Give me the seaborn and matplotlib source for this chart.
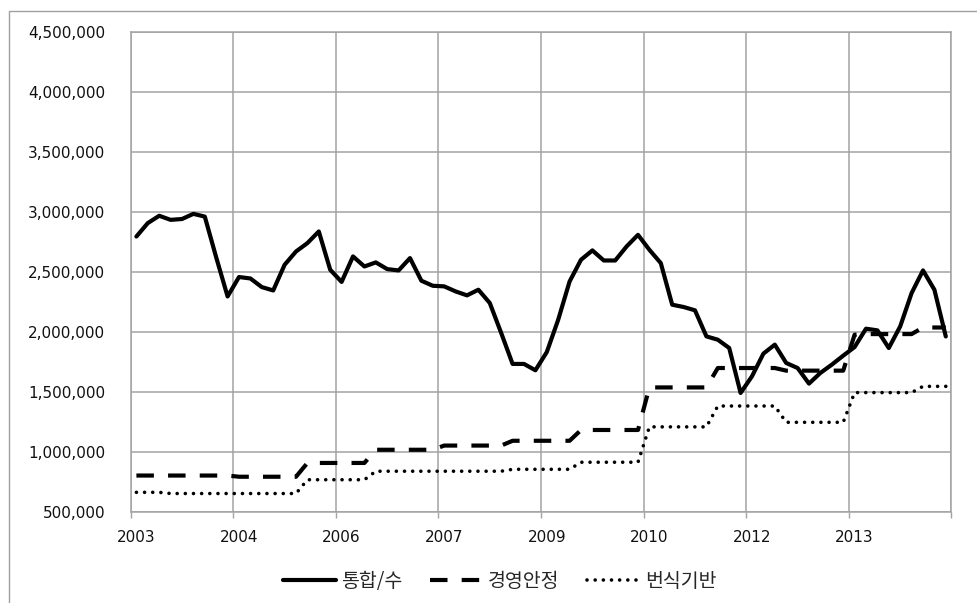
import numpy as np
import pandas as pd
import matplotlib
matplotlib.use("Agg")
import matplotlib.pyplot as plt
import seaborn as sns
from matplotlib.ticker import FuncFormatter
from matplotlib.patches import Rectangle

# ---------------- data (bimonthly, 72 points) ----------------
series_names = ["통합/수", "경영안정", "번식기반"]

tonghap = [2794000, 2906000, 2967000, 2933000, 2940000, 2983000, 2960000, 2620000, 2294000,
           2456000, 2444000, 2372000, 2344000, 2558000, 2669000, 2739000, 2836000, 2517000,
           2415000, 2628000, 2544000, 2578000, 2522000, 2511000, 2614000, 2425000, 2383000,
           2378000, 2336000, 2303000, 2350000, 2239000, 1989000, 1731000, 1731000, 1678000,
           1830000, 2100000, 2419000, 2600000, 2678000, 2594000, 2594000, 2711000, 2808000,
           2683000, 2572000, 2225000, 2206000, 2178000, 1961000, 1933000, 1864000, 1489000,
           1628000, 1817000, 1892000, 1739000, 1697000, 1567000, 1656000, 1725000, 1800000,
           1872000, 2025000, 2011000, 1864000, 2044000, 2322000, 2511000, 2350000, 1960000]

gyeongyeong = [800000, 800000, 800000, 800000, 800000, 800000, 800000, 800000, 800000,
               790000, 790000, 790000, 790000, 790000, 790000, 905000, 905000, 905000,
               905000, 905000, 905000, 1015000, 1015000, 1015000, 1015000, 1015000, 1015000,
               1050000, 1050000, 1050000, 1050000, 1050000, 1050000, 1090000, 1090000, 1090000,
               1090000, 1090000, 1090000, 1180000, 1180000, 1180000, 1180000, 1180000, 1180000,
               1535000, 1535000, 1535000, 1535000, 1535000, 1535000, 1697000, 1697000, 1697000,
               1697000, 1697000, 1697000, 1675000, 1675000, 1675000, 1675000, 1675000, 1675000,
               1975000, 1980000, 1980000, 1980000, 1980000, 1980000, 2035000, 2035000, 2035000]

beonsik = [660000, 660000, 660000, 650000, 650000, 650000, 650000, 650000, 650000,
           650000, 650000, 650000, 650000, 650000, 650000, 765000, 765000, 765000,
           765000, 765000, 765000, 836000, 836000, 836000, 836000, 836000, 836000,
           836000, 836000, 836000, 836000, 836000, 836000, 852000, 852000, 852000,
           852000, 852000, 852000, 911000, 911000, 911000, 911000, 911000, 911000,
           1206000, 1206000, 1206000, 1206000, 1206000, 1206000, 1380000, 1380000, 1380000,
           1380000, 1380000, 1380000, 1244000, 1244000, 1244000, 1244000, 1244000, 1244000,
           1492000, 1492000, 1492000, 1492000, 1492000, 1492000, 1544000, 1544000, 1544000]

tick_labels = ["2003", "2004", "2006", "2007", "2009", "2010", "2012", "2013"]
label_interval = 9
y_ticks = [500000, 1000000, 1500000, 2000000, 2500000, 3000000, 3500000, 4000000, 4500000]

n = len(tonghap)
df = pd.DataFrame({"idx": np.arange(n), "tonghap": tonghap,
                   "gyeongyeong": gyeongyeong, "beonsik": beonsik})

# ---------------- style ----------------
sns.set_theme(style="white")
plt.rcParams["font.family"] = ["DejaVu Sans", "Noto Sans CJK KR"]

W, H = 978, 603
fig = plt.figure(figsize=(W / 100, H / 100), dpi=100)
fig.patch.set_facecolor("white")
left, right, top, bottom = 130.7, 951.5, 32.0, 511.5
ax = fig.add_axes([left / W, 1 - bottom / H, (right - left) / W, (bottom - top) / H])

grid_c = "#a3a3a3"

sns.lineplot(data=df, x="idx", y="tonghap", ax=ax, color="black", lw=3.0,
             label=series_names[0])
sns.lineplot(data=df, x="idx", y="gyeongyeong", ax=ax, color="black", lw=3.0,
             linestyle=(0, (4.2, 3.4)), label=series_names[1])
sns.lineplot(data=df, x="idx", y="beonsik", ax=ax, color="black", lw=2.6,
             linestyle=(0, (0.01, 2.25)), label=series_names[2])

lines = ax.get_lines()
lines[0].set_solid_joinstyle("round")
lines[1].set_dash_capstyle("butt")
lines[2].set_dash_capstyle("round")

ax.set_xlim(-0.5, n - 0.5)
ax.set_ylim(y_ticks[0], y_ticks[-1])

# gridlines at category boundaries, labels at category centres
major_pos = np.arange(-0.5, n, label_interval)
ax.set_xticks(major_pos)
ax.set_xticklabels([""] * len(major_pos))
label_pos = np.arange(0, n, label_interval)[:len(tick_labels)]
ax.set_xticks(label_pos, minor=True)
ax.set_xticklabels(tick_labels, minor=True)

ax.set_yticks(y_ticks)
ax.yaxis.set_major_formatter(FuncFormatter(lambda v, p: f"{v:,.0f}"))

ax.grid(True, which="major", color=grid_c, lw=1.1)
ax.set_axisbelow(True)
for s in ax.spines.values():
    s.set_visible(True)
    s.set_color(grid_c)
    s.set_linewidth(1.1)

ax.tick_params(axis="x", which="major", length=4, width=1, color=grid_c,
               direction="out", bottom=True)
ax.tick_params(axis="x", which="minor", length=0, pad=13, labelsize=11,
               labelcolor="#111111")
ax.tick_params(axis="y", which="major", length=0, pad=18.5, labelsize=11,
               labelcolor="#111111")
ax.set_xlabel("")
ax.set_ylabel("")

handles, labels = ax.get_legend_handles_labels()
ax.get_legend().remove()
fig.legend(handles, labels, loc="center",
           bbox_to_anchor=(500 / W, 1 - 581.7 / H), ncol=3, frameon=False,
           prop={"family": "Noto Sans CJK KR", "size": 14},
           handlelength=2.7, handletextpad=0.3, columnspacing=1.4)

# outer chart border (left / top)
fig.add_artist(Rectangle((8.5 / W, -0.1), 1.2, 1.1 - 10.5 / H,
                         transform=fig.transFigure, fill=False,
                         edgecolor="#a0a0a0", lw=1.0))

fig.savefig("out.png", dpi=100)
